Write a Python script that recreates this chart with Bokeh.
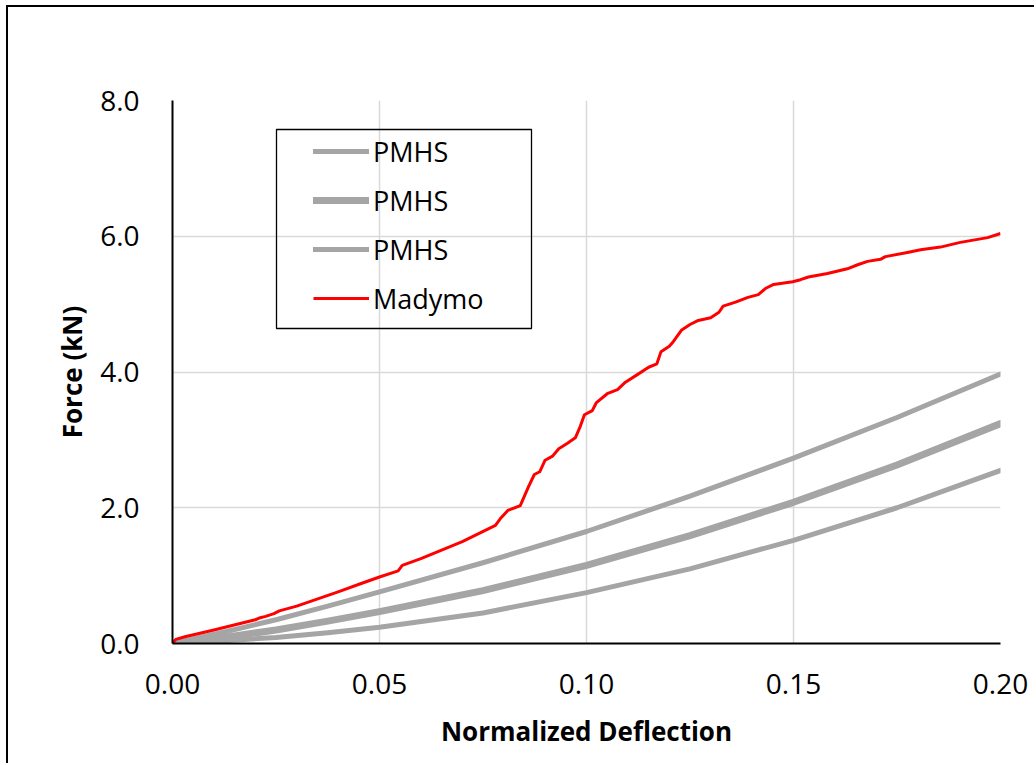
from bokeh.plotting import figure
from bokeh.models import (Legend, LegendItem, FixedTicker, NumeralTickFormatter,
                          BoxAnnotation, Range1d, InlineStyleSheet)
from bokeh.embed import file_html
from bokeh.resources import INLINE

# ---- data ----
deflection_pmhs = [0, 0.0125, 0.025, 0.0375, 0.05, 0.075, 0.10, 0.125, 0.15, 0.175, 0.20]
pmhs_a = [0, 0.17, 0.35, 0.55, 0.76, 1.19, 1.65, 2.17, 2.73, 3.33, 3.97]
pmhs_b = [0, 0.09, 0.20, 0.33, 0.47, 0.78, 1.15, 1.59, 2.08, 2.63, 3.24]
pmhs_c = [0, 0.04, 0.09, 0.16, 0.24, 0.45, 0.75, 1.10, 1.52, 2.00, 2.55]

madymo_x = [0, 0.0008, 0.003, 0.010, 0.020, 0.0212, 0.0225, 0.0245, 0.0258, 0.030,
            0.040, 0.0454, 0.050, 0.0545, 0.0555, 0.060, 0.070, 0.078, 0.0792, 0.081,
            0.084, 0.086, 0.0874, 0.0887, 0.090, 0.0918, 0.0933, 0.0954, 0.0973, 0.0985,
            0.0995, 0.1014, 0.1024, 0.105, 0.1075, 0.1094, 0.112, 0.115, 0.117, 0.118,
            0.120, 0.121, 0.123, 0.125, 0.127, 0.130, 0.132, 0.133, 0.136, 0.139,
            0.1415, 0.1432, 0.1452, 0.1498, 0.1517, 0.1536, 0.1582, 0.163, 0.1655, 0.1679,
            0.171, 0.1722, 0.1775, 0.1807, 0.1855, 0.1903, 0.1969, 0.20]
madymo_y = [0, 0.06, 0.10, 0.20, 0.35, 0.38, 0.40, 0.44, 0.48, 0.55,
            0.76, 0.88, 0.98, 1.07, 1.15, 1.25, 1.50, 1.74, 1.84, 1.96,
            2.03, 2.31, 2.49, 2.53, 2.70, 2.76, 2.87, 2.95, 3.03, 3.20,
            3.37, 3.43, 3.55, 3.68, 3.74, 3.85, 3.95, 4.07, 4.12, 4.30,
            4.38, 4.45, 4.62, 4.70, 4.76, 4.80, 4.88, 4.97, 5.03, 5.10,
            5.14, 5.23, 5.29, 5.33, 5.36, 5.40, 5.45, 5.52, 5.58, 5.63,
            5.66, 5.70, 5.76, 5.80, 5.84, 5.91, 5.98, 6.04]

x_ticks = [0, 0.05, 0.10, 0.15, 0.20]
y_ticks = [0, 2, 4, 6, 8]
series_labels = ["PMHS", "PMHS", "PMHS", "Madymo"]
x_title = "Normalized Deflection"
y_title = "Force (kN)"

FONT = "Open Sans"
GRAY = "#a5a5a5"

# chart-area border (left/top visible, right/bottom lie outside the window)
frame_css = InlineStyleSheet(css=":host { border-left: 2px solid black; border-top: 2px solid black; "
                                 "margin-left: 6px; margin-top: 5px; }")

p = figure(width=1028, height=758, output_backend="svg", toolbar_location=None,
           x_range=Range1d(0, 0.2), y_range=Range1d(0, 8),
           min_border_left=164, min_border_right=36, min_border_top=93,
           min_border_bottom=122, stylesheets=[frame_css])
p.outline_line_color = None
p.background_fill_color = "white"
p.border_fill_color = "white"

ra = p.line(deflection_pmhs, pmhs_a, line_color=GRAY, line_width=5, line_cap="round", line_join="round")
rb = p.line(deflection_pmhs, pmhs_b, line_color=GRAY, line_width=7, line_cap="round", line_join="round")
rc = p.line(deflection_pmhs, pmhs_c, line_color=GRAY, line_width=5, line_cap="round", line_join="round")
rm = p.line(madymo_x, madymo_y, line_color="#ff0000", line_width=3, line_join="round")

# axes
for ax in (p.xaxis[0], p.yaxis[0]):
    ax.axis_line_color = "black"
    ax.axis_line_width = 2
    ax.major_tick_in = 0
    ax.major_tick_out = 0
    ax.minor_tick_in = 0
    ax.minor_tick_out = 0
    ax.major_label_text_font = FONT
    ax.major_label_text_font_size = "28px"
    ax.major_label_text_color = "black"
    ax.axis_label_text_font = FONT
    ax.axis_label_text_font_size = "26px"
    ax.axis_label_text_font_style = "bold"
    ax.axis_label_text_color = "black"

p.xaxis.ticker = FixedTicker(ticks=x_ticks)
p.yaxis.ticker = FixedTicker(ticks=y_ticks)
p.xaxis.formatter = NumeralTickFormatter(format="0.00")
p.yaxis.formatter = NumeralTickFormatter(format="0.0")
p.xaxis.axis_label = x_title
p.yaxis.axis_label = y_title
p.xaxis.major_label_standoff = 30
p.yaxis.major_label_standoff = 33
p.xaxis.axis_label_standoff = 16
p.yaxis.axis_label_standoff = 7

p.xgrid.ticker = FixedTicker(ticks=x_ticks)
p.ygrid.ticker = FixedTicker(ticks=y_ticks)
for g in (p.xgrid[0], p.ygrid[0]):
    g.grid_line_color = "#d9d9d9"
    g.grid_line_width = 1.5

# legend
items = [LegendItem(label=lab, renderers=[r]) for lab, r in zip(series_labels, [ra, rb, rc, rm])]
legend = Legend(items=items, location=(141, 325), padding=0, spacing=9,
                glyph_width=56, glyph_height=40, label_height=40, label_standoff=4,
                label_text_font=FONT, label_text_font_size="27px", label_text_color="black",
                border_line_alpha=0, background_fill_alpha=0, margin=0)
p.add_layout(legend, "center")

legend_box = BoxAnnotation(left=266, right=521, top=120, bottom=319,
                           left_units="canvas", right_units="canvas",
                           top_units="canvas", bottom_units="canvas",
                           fill_alpha=0, line_color="black", line_alpha=1, line_width=1.3)
p.add_layout(legend_box)

open("out.html", "w").write(file_html(p, INLINE))
